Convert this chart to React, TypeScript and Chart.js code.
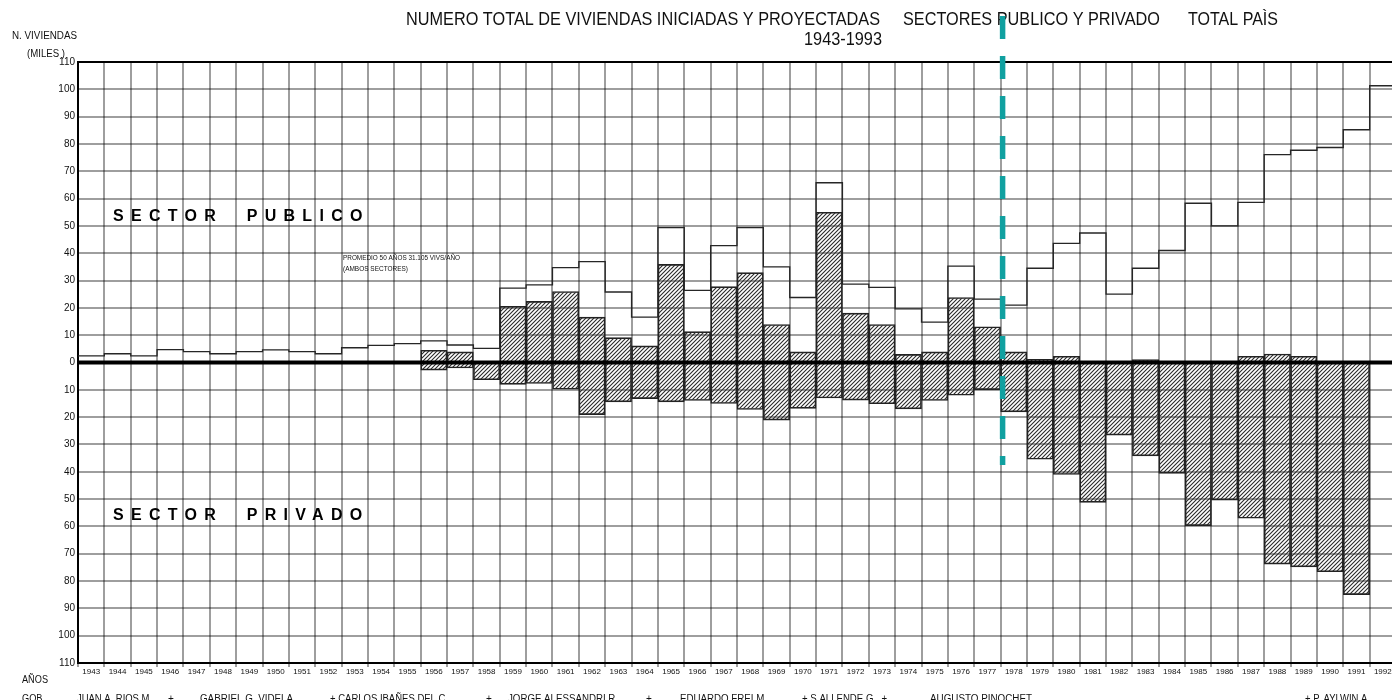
import React, { useEffect, useRef } from 'react';
import { Chart, registerables } from 'chart.js';

Chart.register(...registerables);

// ---------------- DATA ----------------
const years = [
  '1943', '1944', '1945', '1946', '1947', '1948', '1949', '1950', '1951', '1952',
  '1953', '1954', '1955', '1956', '1957', '1958', '1959', '1960', '1961', '1962',
  '1963', '1964', '1965', '1966', '1967', '1968', '1969', '1970', '1971', '1972',
  '1973', '1974', '1975', '1976', '1977', '1978', '1979', '1980', '1981', '1982',
  '1983', '1984', '1985', '1986', '1987', '1988', '1989', '1990', '1991', '1992',
];

// Total (both sectors), thousands of dwellings – outline step line
const totalBoth = [
  2.4, 3.2, 2.4, 4.7, 4.0, 3.2, 4.0, 4.6, 4.0, 3.2,
  5.4, 6.3, 6.9, 7.9, 6.4, 5.2, 27.2, 28.4, 34.7, 36.9,
  25.8, 16.6, 49.4, 26.4, 42.8, 49.4, 35.0, 23.8, 65.8, 28.7,
  27.5, 19.6, 14.8, 35.3, 23.2, 21.0, 34.5, 43.6, 47.4, 25.0,
  34.5, 41.0, 58.3, 50.0, 58.6, 76.1, 77.7, 78.7, 85.2, 101.3,
];

// Public sector (hatched, above zero)
const publicSector = [
  0, 0, 0, 0, 0, 0, 0, 0, 0, 0,
  0, 0, 0, 4.5, 3.9, 0, 20.6, 22.4, 26.0, 16.6,
  9.1, 6.1, 35.9, 11.3, 27.8, 32.9, 13.9, 3.9, 55.0, 18.1,
  13.9, 3.0, 3.9, 23.8, 13.1, 3.9, 1.2, 2.3, 0, 0,
  1.1, 0, 0, 0, 2.3, 3.1, 2.3, 0, 0, 0,
];

// Private sector (hatched, below zero) – magnitudes
const privateSector = [
  0, 0, 0, 0, 0, 0, 0, 0, 0, 0,
  0, 0, 0, 2.8, 2.0, 6.3, 8.0, 7.7, 9.8, 19.1,
  14.4, 13.2, 14.4, 13.9, 15.0, 17.2, 21.1, 16.8, 13.0, 13.8,
  15.1, 17.0, 13.9, 12.0, 9.9, 18.1, 35.4, 41.0, 51.2, 26.6,
  34.2, 40.6, 59.7, 50.4, 57.0, 73.8, 74.8, 76.6, 85.0, 0,
];

const titleParts = [
  'NUMERO TOTAL DE VIVIENDAS INICIADAS Y PROYECTADAS',
  'SECTORES PUBLICO Y PRIVADO',
  'TOTAL PAÌS',
];
const subtitle = '1943-1993';
const yTitle = ['N. VIVIENDAS', '(MILES )'];
const sectorLabels = ['SECTOR  PUBLICO', 'SECTOR  PRIVADO'];
const noteLines = ['PROMEDIO 50 AÑOS 31.105 VIVS/AÑO', '(AMBOS SECTORES)'];
const rowLabels = ['AÑOS', 'GOB.'];
const governments = [
  'JUAN A. RIOS M.', '+', 'GABRIEL G. VIDELA', '+ CARLOS IBAÑES DEL C.', '+',
  'JORGE ALESSANDRI R.', '+', 'EDUARDO FREI M.', '+ S.ALLENDE G.  +',
  'AUGUSTO PINOCHET', '+ P. AYLWIN A.',
];
const dividerIndex = 35; // boundary before 1978

// ---------------- LAYOUT (pixels) ----------------
const FONT = "'Liberation Sans', Arial, sans-serif";
const NARROW = "'Liberation Sans Narrow', 'Liberation Sans', Arial, sans-serif";
const GRID = 'rgba(0,0,0,0.38)';
const CANVAS_W = 1396;
const govLayout: [number, number][] = [
  [77, 75], [168, 0], [200, 93], [330, 118], [486, 0], [508, 110],
  [646, 0], [680, 87], [802, 85], [930, 102], [1305, 65],
];

function makeHatch(): CanvasPattern | string {
  const s = 4;
  const c = document.createElement('canvas');
  c.width = s;
  c.height = s;
  const g = c.getContext('2d');
  if (!g) return '#888';
  g.strokeStyle = '#2a2a2a';
  g.lineWidth = 1.1;
  g.beginPath();
  g.moveTo(0, s);
  g.lineTo(s, 0);
  g.moveTo(-1, 1);
  g.lineTo(1, -1);
  g.moveTo(s - 1, s + 1);
  g.lineTo(s + 1, s - 1);
  g.stroke();
  return g.createPattern(c, 'repeat') || '#888';
}

function txt(ctx: CanvasRenderingContext2D, s: string, x: number, y: number, font: string, w = 0, align: CanvasTextAlign = 'left') {
  ctx.font = font;
  ctx.textAlign = align;
  ctx.textBaseline = 'alphabetic';
  ctx.fillStyle = '#111';
  if (w > 0) ctx.fillText(s, x, y, w);
  else ctx.fillText(s, x, y);
}

export default function App() {
  const ref = useRef<HTMLCanvasElement | null>(null);

  useEffect(() => {
    document.body.style.margin = '0';
    document.body.style.overflow = 'hidden';
    const canvas = ref.current;
    if (!canvas) return;
    const hatch = makeHatch();

    const totalPts = totalBoth.map((v, i) => ({ x: i, y: v }));
    totalPts.push({ x: totalBoth.length, y: totalBoth[totalBoth.length - 1] });

    const overlay = {
      id: 'overlay',
      afterDatasetsDraw(chart: any) {
        const { ctx, chartArea, scales } = chart;
        const y0 = scales.y.getPixelForValue(0);
        ctx.save();
        ctx.strokeStyle = '#000';
        ctx.lineWidth = 4;
        ctx.beginPath();
        ctx.moveTo(chartArea.left, y0);
        ctx.lineTo(chartArea.right, y0);
        ctx.stroke();
        ctx.restore();
      },
      afterDraw(chart: any) {
        const { ctx, chartArea, scales } = chart;
        ctx.save();
        // titles
        txt(ctx, titleParts[0], 406, 25, `18px ${NARROW}`, 474);
        txt(ctx, titleParts[1], 903, 25, `18px ${NARROW}`, 257);
        txt(ctx, titleParts[2], 1188, 25, `18px ${NARROW}`, 90);
        txt(ctx, subtitle, 804, 45, `18px ${NARROW}`, 78);
        // y title
        txt(ctx, yTitle[0], 12, 38.5, `10px ${FONT}`, 65);
        txt(ctx, yTitle[1], 27, 57, `10px ${FONT}`, 38);
        // sector labels
        ctx.font = `bold 16px ${FONT}`;
        (ctx as any).letterSpacing = '7.3px';
        ctx.fillStyle = '#000';
        ctx.textAlign = 'left';
        ctx.fillText(sectorLabels[0], 113, 221);
        ctx.fillText(sectorLabels[1], 113, 520);
        (ctx as any).letterSpacing = '0px';
        // note
        txt(ctx, noteLines[0], 343, 260, `7px ${FONT}`, 117);
        txt(ctx, noteLines[1], 343, 271, `7px ${FONT}`, 65);
        // bottom rows
        txt(ctx, rowLabels[0], 22, 683, `10px ${FONT}`, 26);
        txt(ctx, rowLabels[1], 22, 702, `10px ${FONT}`, 23);
        governments.forEach((g, i) => {
          const [x, w] = govLayout[i];
          txt(ctx, g, x, 702, `10px ${FONT}`, w);
        });
        // dashed divider
        const xd = scales.x2.getPixelForValue(dividerIndex) + 2;
        ctx.strokeStyle = '#10a0a0';
        ctx.lineWidth = 5.5;
        ctx.setLineDash([23, 17]);
        ctx.beginPath();
        ctx.moveTo(xd, chartArea.top - 46);
        ctx.lineTo(xd, scales.y.getPixelForValue(-37.5));
        ctx.stroke();
        ctx.setLineDash([]);
        ctx.restore();
      },
    };

    const chart = new Chart(canvas, {
      data: {
        labels: years,
        datasets: [
          {
            type: 'line',
            data: totalPts,
            xAxisID: 'x2',
            yAxisID: 'y',
            stepped: true,
            borderColor: '#262626',
            borderWidth: 1.3,
            pointRadius: 0,
            fill: false,
            order: 0,
          } as any,
          {
            type: 'bar',
            data: publicSector,
            xAxisID: 'x',
            yAxisID: 'y',
            backgroundColor: hatch,
            borderColor: '#222',
            borderWidth: 1,
            barPercentage: 1,
            categoryPercentage: 1,
            grouped: false,
            order: 1,
          } as any,
          {
            type: 'bar',
            data: privateSector.map((v) => -v),
            xAxisID: 'x',
            yAxisID: 'y',
            backgroundColor: hatch,
            borderColor: '#222',
            borderWidth: 1,
            barPercentage: 1,
            categoryPercentage: 1,
            grouped: false,
            order: 1,
          } as any,
        ],
      },
      options: {
        responsive: false,
        maintainAspectRatio: false,
        animation: false,
        events: [],
        layout: { padding: { top: 62, left: 0, right: 0, bottom: 0 } },
        plugins: {
          legend: { display: false },
          tooltip: { enabled: false },
          title: { display: false },
        },
        scales: {
          x: {
            type: 'category',
            offset: true,
            grid: { offset: true, color: GRID, lineWidth: 2, tickLength: 4, drawTicks: true },
            border: { display: true, color: '#000', width: 2 },
            ticks: {
              autoSkip: false,
              maxRotation: 0,
              minRotation: 0,
              padding: 0,
              color: '#111',
              font: { family: FONT, size: 8 },
            },
            afterFit: (s: any) => {
              s.height = 37;
            },
          },
          x2: { type: 'linear', display: false, min: 0, max: years.length },
          y: {
            type: 'linear',
            min: -110,
            max: 110,
            ticks: {
              stepSize: 10,
              padding: 3,
              color: '#111',
              font: { family: FONT, size: 10 },
              callback: (v: any) => String(Math.abs(Number(v))),
            },
            grid: {
              drawTicks: false,
              color: (c: any) => (c.tick && c.tick.value === 110 ? '#000' : c.tick && c.tick.value === 0 ? 'rgba(0,0,0,0)' : GRID),
              lineWidth: 2,
            },
            border: { display: true, color: '#000', width: 2 },
            afterFit: (s: any) => {
              s.width = 78;
            },
          },
        },
      } as any,
      plugins: [overlay],
    });

    return () => {
      chart.destroy();
    };
  }, []);

  return (
    <div style={{ position: 'absolute', left: 0, top: 0, width: 1392, height: 700, overflow: 'hidden' }}>
      <canvas ref={ref} width={CANVAS_W} height={700} style={{ display: 'block', width: CANVAS_W, height: 700 }} />
    </div>
  );
}
